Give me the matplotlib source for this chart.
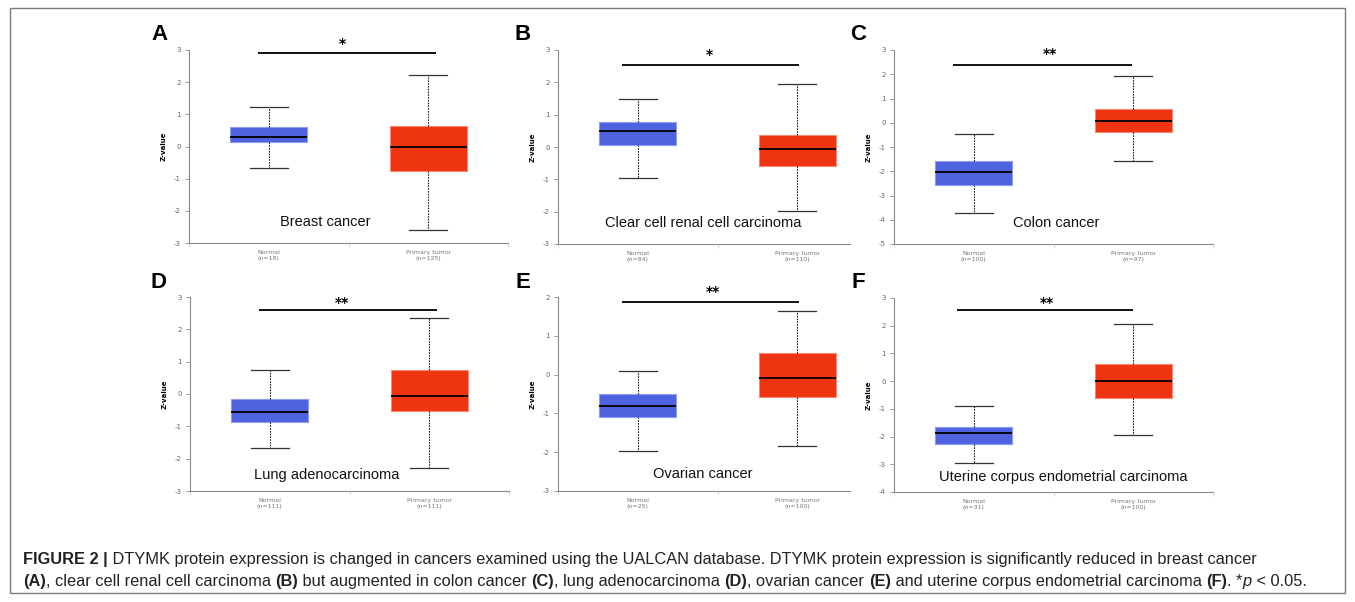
import matplotlib
matplotlib.use("Agg")
import matplotlib.pyplot as plt
from matplotlib.patches import Rectangle

plt.rcParams["axes.unicode_minus"] = False

W, H = 1355, 602

# ---------------- data ----------------
panel_letters = ["A", "B", "C", "D", "E", "F"]
panel_titles = ["Breast cancer", "Clear cell renal cell carcinoma", "Colon cancer",
                "Lung adenocarcinoma", "Ovarian cancer",
                "Uterine corpus endometrial carcinoma"]
categories = ["Normal", "Primary tumor"]
n_normal = [18, 84, 100, 111, 25, 31]
n_tumor = [125, 110, 97, 111, 100, 100]
# box stats: [whisker low, Q1, median, Q3, whisker high]
normal_stats = [
    [-0.67, 0.14, 0.30, 0.60, 1.22],
    [-0.97, 0.07, 0.48, 0.78, 1.50],
    [-3.73, -2.55, -2.02, -1.58, -0.47],
    [-1.67, -0.87, -0.55, -0.17, 0.75],
    [-1.97, -1.10, -0.80, -0.50, 0.10],
    [-2.97, -2.25, -1.88, -1.67, -0.90],
]
tumor_stats = [
    [-2.60, -0.75, 0.00, 0.63, 2.23],
    [-1.97, -0.58, -0.05, 0.38, 1.95],
    [-1.58, -0.40, 0.08, 0.57, 1.93],
    [-2.28, -0.53, -0.05, 0.75, 2.35],
    [-1.83, -0.57, -0.08, 0.55, 1.63],
    [-1.93, -0.60, 0.00, 0.62, 2.07],
]
y_limits = [(-3, 3), (-3, 3), (-5, 3), (-3, 3), (-3, 2), (-4, 3)]
sig_labels = ["*", "*", "**", "**", "**", "**"]
sig_line_y = [2.90, 2.53, 2.38, 2.60, 1.87, 2.57]

# ---------------- layout (pixels) ----------------
axes_px = [(189, 50, 508, 243), (558, 50, 877, 244), (894, 50, 1213, 244),
           (190, 297, 509, 491), (558, 297, 877, 491), (894, 298, 1213, 492)]
bottom_spine_end = [1.5, 1.33, 1.5, 1.5, 1.33, 1.5]
sig_x = [(-0.07, 1.05), (-0.10, 1.01), (-0.13, 0.99), (-0.07, 1.05), (-0.10, 1.01), (-0.105, 0.998)]
star_pos = [(0.46, 3.18), (0.45, 2.86), (0.48, 2.84), (0.45, 2.82), (0.47, 2.12), (0.46, 2.83)]
letter_px = [(159, 35), (523, 35), (858, 35), (159, 283), (523, 283), (858, 283)]
title_px = [(325, 222), (703, 223), (1056, 223), (327, 475), (703, 474), (1063, 477)]

blue = "#4f62e0"
blue_edge = "#8d9cf2"
red = "#ee3410"
red_edge = "#f7876e"

fig = plt.figure(figsize=(W / 100, H / 100), dpi=100)

def fx(x):
    return x / W

def fy(y):
    return 1 - y / H

# outer frame
fig.patches.append(Rectangle((fx(10), fy(593)), fx(1345) - fx(10), fy(8) - fy(593),
                             transform=fig.transFigure, fill=False,
                             edgecolor="#7a7a7a", linewidth=1.0))

for i in range(6):
    x0, y0, x1, y1 = axes_px[i]
    ax = fig.add_axes([fx(x0), fy(y1), (x1 - x0) / W, (y1 - y0) / H])
    stats = []
    for cat, s, n in zip(categories, [normal_stats[i], tumor_stats[i]], [n_normal[i], n_tumor[i]]):
        stats.append(dict(label=f"{cat}\n(n={n})", whislo=s[0], q1=s[1], med=s[2],
                          q3=s[3], whishi=s[4], fliers=[]))
    bp = ax.bxp(stats, positions=[0, 1], widths=0.48, capwidths=0.24,
                patch_artist=True, showfliers=False,
                medianprops=dict(color="black", linewidth=1.3),
                whiskerprops=dict(color="#222222", linewidth=0.8, linestyle=(0, (1.5, 1.0))),
                capprops=dict(color="#333333", linewidth=0.9))
    for patch, fc, ec in zip(bp["boxes"], [blue, red], [blue_edge, red_edge]):
        patch.set_facecolor(fc)
        patch.set_edgecolor(ec)
        patch.set_linewidth(0.8)
    ax.set_xlim(-0.5, 1.5)
    ax.set_ylim(*y_limits[i])
    ax.set_yticks(range(y_limits[i][0], y_limits[i][1] + 1))
    for sp in ["top", "right"]:
        ax.spines[sp].set_visible(False)
    ax.spines["left"].set_color("#8a8a8a")
    ax.spines["left"].set_linewidth(0.8)
    ax.spines["bottom"].set_color("#8a8a8a")
    ax.spines["bottom"].set_linewidth(0.8)
    ax.spines["bottom"].set_bounds(-0.5, bottom_spine_end[i])
    ax.tick_params(axis="y", colors="#8a8a8a", labelcolor="#666666", labelsize=5,
                   length=3, width=0.6, pad=3)
    ax.tick_params(axis="x", which="major", length=0, labelsize=4.5,
                   labelcolor="#777777", pad=5)
    ax.set_xticks([-0.5, 0.5, bottom_spine_end[i]] if bottom_spine_end[i] == 1.5 else [-0.5, 0.5],
                  minor=True)
    ax.tick_params(axis="x", which="minor", length=3, width=0.6, colors="#c5d3e6")
    for lab in ax.get_xticklabels():
        lab.set_linespacing(1.3)
    ax.set_ylabel("Z-value", fontsize=5, fontweight="bold", labelpad=5)
    ax.patch.set_alpha(0)
    # significance bar
    ax.plot(list(sig_x[i]), [sig_line_y[i], sig_line_y[i]], color="#111111",
            linewidth=1.4, clip_on=False, solid_capstyle="butt")
    ax.text(star_pos[i][0], star_pos[i][1], sig_labels[i], ha="center", va="center",
            fontsize=10, fontweight="bold", clip_on=False)
    # panel letter and title
    fig.text(fx(letter_px[i][0]), fy(letter_px[i][1]), panel_letters[i], ha="center",
             va="center", fontsize=16, fontweight="bold", family="Liberation Sans")
    fig.text(fx(title_px[i][0]), fy(title_px[i][1]), panel_titles[i], ha="center",
             va="center", fontsize=10.5, family="Liberation Sans", color="#111111")

# caption
cap_lines = [
    [("FIGURE 2 |", "bold", "normal"),
     (" DTYMK protein expression is changed in cancers examined using the UALCAN database. "
      "DTYMK protein expression is significantly reduced in breast cancer", "normal", "normal")],
    [("(A)", "bold", "normal"), (", clear cell renal cell carcinoma ", "normal", "normal"),
     ("(B)", "bold", "normal"), (" but augmented in colon cancer ", "normal", "normal"),
     ("(C)", "bold", "normal"), (", lung adenocarcinoma ", "normal", "normal"),
     ("(D)", "bold", "normal"), (", ovarian cancer ", "normal", "normal"),
     ("(E)", "bold", "normal"), (" and uterine corpus endometrial carcinoma ", "normal", "normal"),
     ("(F)", "bold", "normal"), (". *", "normal", "normal"), ("p", "normal", "italic"),
     (" < 0.05.", "normal", "normal")],
]
cap_baseline = [564, 586]
cap_x0 = 23
cap_target_end = 1318  # right end of line 2 in pixels
fig.canvas.draw()
renderer = fig.canvas.get_renderer()

def line_width(line, fs):
    total = 0
    for txt, weight, style in line:
        t = fig.text(0, 0, txt, fontsize=fs, fontweight=weight, fontstyle=style,
                     family="Liberation Sans")
        total += t.get_window_extent(renderer=renderer).width
        t.remove()
    return total

base_fs = 10.6
w2 = line_width(cap_lines[1], base_fs)
cap_fs = base_fs * (cap_target_end - cap_x0) / w2

for line, yy in zip(cap_lines, cap_baseline):
    xpix = cap_x0
    for txt, weight, style in line:
        t = fig.text(fx(xpix), fy(yy), txt, ha="left", va="baseline", fontsize=cap_fs,
                     fontweight=weight, fontstyle=style, family="Liberation Sans",
                     color="#222222")
        bb = t.get_window_extent(renderer=renderer)
        xpix += bb.width

fig.savefig("out.png", dpi=100)
